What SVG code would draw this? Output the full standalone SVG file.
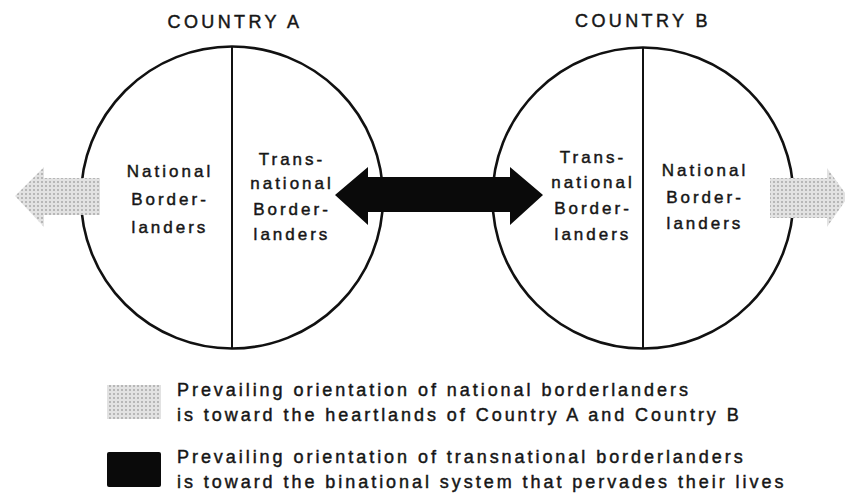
<svg xmlns="http://www.w3.org/2000/svg" width="845" height="496" viewBox="0 0 845 496">
<defs>
<pattern id="dots" width="4" height="4" patternUnits="userSpaceOnUse">
<rect width="4" height="4" fill="#e2e2e2"/>
<circle cx="2" cy="2" r="1" fill="#a9a9a9"/>
</pattern>
<style>
.t{font-family:"Liberation Sans",Arial,sans-serif;fill:#161616;stroke:#161616;stroke-width:0.45px;}
.title{font-size:18px;letter-spacing:3.4px;text-anchor:middle;}
.lab{font-size:17px;letter-spacing:3px;text-anchor:middle;}
.leg{font-size:18px;letter-spacing:2.95px;}
.circ{fill:#fff;stroke:#111;stroke-width:2.6;}
.div{stroke:#111;stroke-width:2;}
.gray{fill:url(#dots);}
.black{fill:#0a0a0a;}
</style>
</defs>
<rect width="845" height="496" fill="#fff"/>

<g id="countryA">
<text class="t title" x="235" y="28">COUNTRY A</text>
<circle class="circ" cx="232" cy="197.5" r="151"/>
<line class="div" x1="232" y1="46.5" x2="232" y2="348.5"/>
<g id="nationalA">
<text class="t lab" x="170" y="177">National</text>
<text class="t lab" x="170" y="205">Border-</text>
<text class="t lab" x="170" y="233">landers</text>
</g>
<g id="transA">
<text class="t lab" x="292" y="165">Trans-</text>
<text class="t lab" x="292" y="189">national</text>
<text class="t lab" x="292" y="215">Border-</text>
<text class="t lab" x="292" y="240">landers</text>
</g>
</g>

<g id="countryB">
<text class="t title" x="643" y="27">COUNTRY B</text>
<circle class="circ" cx="643" cy="198" r="150.5"/>
<line class="div" x1="643" y1="47.5" x2="643" y2="348.5"/>
<g id="transB">
<text class="t lab" x="593" y="163">Trans-</text>
<text class="t lab" x="593" y="188">national</text>
<text class="t lab" x="593" y="214">Border-</text>
<text class="t lab" x="593" y="240">landers</text>
</g>
<g id="nationalB">
<text class="t lab" x="705" y="176">National</text>
<text class="t lab" x="705" y="203">Border-</text>
<text class="t lab" x="705" y="229">landers</text>
</g>
</g>

<g id="connectors">
<polygon class="gray" points="15,196 44,167 44,178 100,178 100,215 44,215 44,227"/>
<polygon class="gray" points="770,178 827,178 827,168 848,197 827,227 827,218 770,218"/>
<polygon class="black" points="335,195 368,167 368,177 510,177 510,167 543,195 510,225 510,212 368,212 368,225"/>
</g>

<g id="legend-national">
<rect class="gray" x="107" y="385" width="54" height="34"/>
<text class="t leg" x="177" y="396">Prevailing orientation of national borderlanders</text>
<text class="t leg" x="177" y="421">is toward the heartlands of Country A and Country B</text>
</g>
<g id="legend-transnational">
<rect class="black" x="107" y="452" width="54" height="35" rx="2"/>
<text class="t leg" x="177" y="463">Prevailing orientation of transnational borderlanders</text>
<text class="t leg" x="177" y="488">is toward the binational system that pervades their lives</text>
</g>
</svg>
